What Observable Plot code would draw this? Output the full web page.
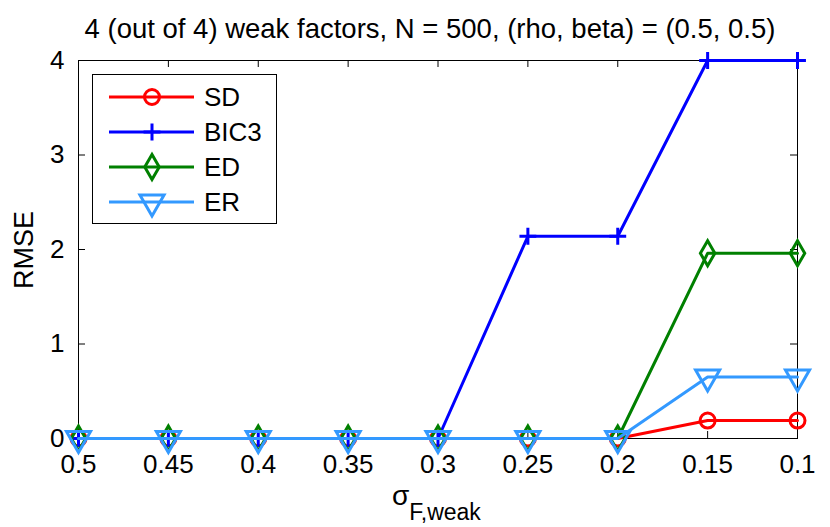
<!DOCTYPE html>
<html><head><meta charset="utf-8">
<script src="https://cdn.jsdelivr.net/npm/d3@7"></script>
<script src="https://cdn.jsdelivr.net/npm/@observablehq/plot@0.6"></script>
<style>body{margin:0;background:#fff} svg{display:block} #chart{width:830px;height:527px}</style>
</head><body><div id="chart"></div>
<script>
const sigma = [0.5, 0.45, 0.4, 0.35, 0.3, 0.25, 0.2, 0.15, 0.1];
const SD   = [0, 0, 0, 0, 0, 0, 0, 0.19, 0.19];
const BIC3 = [0, 0, 0, 0, 0, 2.14, 2.14, 4, 4];
const ED   = [0, 0, 0, 0, 0, 0, 0, 1.96, 1.96];
const ER   = [0, 0, 0, 0, 0, 0, 0, 0.65, 0.65];
const seriesNames = ["SD", "BIC3", "ED", "ER"];
const seriesValues = [SD, BIC3, ED, ER];
const xTicks = [0.5, 0.45, 0.4, 0.35, 0.3, 0.25, 0.2, 0.15, 0.1];
const yTicks = [0, 1, 2, 3, 4];
const titleText = "4 (out of 4) weak factors, N = 500, (rho, beta) = (0.5, 0.5)";
const yLabel = "RMSE";

const colors = ["#ff0000", "#0000ff", "#008000", "#3399ff"];
const symbols = ["circle", "plus", "diamond", "triangle2"];
const radii = [7.5, 5.5, 7.6, 11.5];
const rotates = [0, 0, 0, 180];
const FONT = "'Liberation Sans', Arial, Helvetica, sans-serif";

const rows = seriesNames.map((s, i) => sigma.map((x, j) => ({series: s, x, y: seriesValues[i][j]})));

const marks = [];
rows.forEach((d, i) => {
  marks.push(Plot.line(d, {x: "x", y: "y", stroke: colors[i], strokeWidth: 3}));
  marks.push(Plot.dot(d, {x: "x", y: "y", symbol: symbols[i], r: radii[i], rotate: rotates[i], stroke: colors[i], strokeWidth: 3, fill: "none"}));
});

const plot = Plot.plot({
  width: 830, height: 527,
  marginTop: 60, marginBottom: 89, marginLeft: 78, marginRight: 33,
  style: {fontFamily: FONT, fontSize: "26px", color: "#000", background: "#fff"},
  x: {type: "linear", domain: [0.5, 0.1], ticks: xTicks, tickFormat: d => String(d), tickSize: 0, tickPadding: 16, label: null},
  y: {domain: [0, 4], ticks: yTicks, tickFormat: d => String(d), tickSize: 0, tickPadding: 14, label: null},
  marks: [
    Plot.ruleX(xTicks, {x: d => d, y1: 0, y2: 0, insetTop: -7, stroke: "#000", strokeWidth: 1}),
    Plot.ruleX(xTicks, {x: d => d, y1: 4, y2: 4, insetBottom: -7, stroke: "#000", strokeWidth: 1}),
    Plot.ruleY(yTicks, {y: d => d, x1: 0.5, x2: 0.5, insetRight: -7, stroke: "#000", strokeWidth: 1}),
    Plot.ruleY(yTicks, {y: d => d, x1: 0.1, x2: 0.1, insetLeft: -7, stroke: "#000", strokeWidth: 1}),
    Plot.frame({stroke: "#000", strokeWidth: 1}),
    ...marks
  ]
});
document.getElementById("chart").appendChild(plot);

const svg = d3.select(plot);
// title
svg.append("text").attr("x", 430).attr("y", 38).attr("text-anchor", "middle")
  .attr("font-family", FONT).attr("font-size", 27.5).attr("fill", "#000").text(titleText);
// y label
svg.append("text").attr("transform", "translate(33,250) rotate(-90)").attr("text-anchor", "middle")
  .attr("font-family", FONT).attr("font-size", 27).attr("fill", "#000").text(yLabel);
// x label
const xl = svg.append("text").attr("x", 392).attr("y", 505).attr("text-anchor", "start")
  .attr("font-family", FONT).attr("fill", "#000");
xl.append("tspan").attr("font-size", 28).text("σ");
xl.append("tspan").attr("font-size", 23).attr("dy", 15).text("F,weak");

// legend
const lg = svg.append("g");
lg.append("rect").attr("x", 92.5).attr("y", 74.5).attr("width", 184).attr("height", 149)
  .attr("fill", "#fff").attr("stroke", "#000").attr("stroke-width", 1);
const symMap = {circle: d3.symbolCircle, plus: d3.symbolPlus, diamond: d3.symbolDiamond, triangle2: d3.symbolTriangle2};
seriesNames.forEach((s, i) => {
  const y = 97 + i * 35;
  lg.append("line").attr("x1", 109).attr("x2", 194).attr("y1", y).attr("y2", y)
    .attr("stroke", colors[i]).attr("stroke-width", 3);
  lg.append("path").attr("d", d3.symbol(symMap[symbols[i]], Math.PI * radii[i] * radii[i])())
    .attr("transform", `translate(152,${y}) rotate(${rotates[i]})`)
    .attr("fill", "none").attr("stroke", colors[i]).attr("stroke-width", 3);
  lg.append("text").attr("x", 204).attr("y", y).attr("dy", "0.35em").attr("text-anchor", "start")
    .attr("font-family", FONT).attr("font-size", 26).attr("fill", "#000").text(s);
});
</script></body></html>
